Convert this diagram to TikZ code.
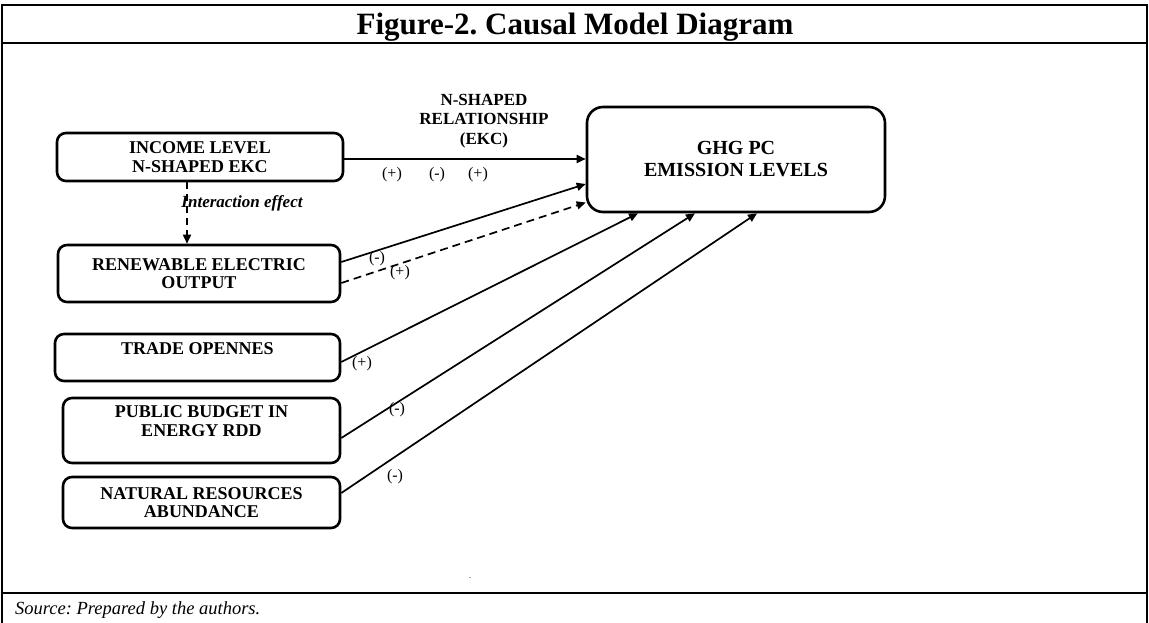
\documentclass[tikz,border=0pt]{standalone}
\usepackage{fontspec}
\setmainfont{Liberation Serif}
\usetikzlibrary{arrows.meta}
\frenchspacing

\begin{document}
\begin{tikzpicture}[
		x=1pt, y=-1pt,
		box/.style={rectangle, draw, rounded corners=9pt, line width=2.6pt, align=center, inner sep=0pt, font=\fontsize{18}{18.5}\selectfont\bfseries},
		sign/.style={inner sep=0pt, font=\fontsize{16}{16}\selectfont},
		link/.style={line width=1.7pt, -{Triangle[length=9pt,width=8pt]}}
	]
  \useasboundingbox (0,0) rectangle (1149,623);
  \draw [line width=2.5pt] (2,630) -- (2,5) -- (1147,5) -- (1147,630);
  \draw [line width=2.5pt] (2,43) -- (1147,43);
  \draw [line width=2.5pt] (2,593) -- (1147,593);
  \node (title) [anchor=base, inner sep=0pt, font=\fontsize{31}{31}\selectfont\bfseries] at (575,35) {Figure-2. Causal Model Diagram};
  \node (income) [box, minimum width=286pt, minimum height=48pt] at (200,157) {INCOME LEVEL\\N-SHAPED EKC};
  \node (renew) [box, minimum width=282pt, minimum height=57pt] at (199,273.5) {RENEWABLE ELECTRIC\\OUTPUT};
  \node (trade) [box, minimum width=285pt, minimum height=47pt] at (197.5,357.5) {TRADE OPENNES\\~};
  \node (budget) [box, minimum width=277pt, minimum height=65pt] at (201.5,430.5) {PUBLIC BUDGET IN\\ENERGY RDD\\~};
  \node (natural) [box, minimum width=277pt, minimum height=51pt] at (201.5,502.5) {NATURAL RESOURCES\\ABUNDANCE};
  \node (ghg) [box, rounded corners=16pt, minimum width=298pt, minimum height=105pt, font=\fontsize{20}{22}\selectfont\bfseries] at (736,159.5) {GHG PC\\EMISSION LEVELS};
  \node (ekc) [align=center, inner sep=0pt, font=\fontsize{17}{19.5}\selectfont\bfseries] at (484,121) {N-SHAPED\\RELATIONSHIP\\(EKC)};
  \node (inter) [inner sep=0pt, font=\fontsize{17}{17}\selectfont\bfseries\itshape] at (242,203) {Interaction effect};
  \node (s_inc_a) [sign] at (392,175) {(+)};
  \node (s_inc_b) [sign] at (437,175) {(-)};
  \node (s_inc_c) [sign] at (478,175) {(+)};
  \node (s_ren_a) [sign] at (377,259) {(-)};
  \node (s_ren_b) [sign] at (400,273) {(+)};
  \node (s_trade) [sign] at (362,364) {(+)};
  \node (s_budget) [sign] at (397,410) {(-)};
  \node (s_natural) [sign] at (395,477) {(-)};
  \node (source) [anchor=base west, inner sep=0pt, font=\fontsize{18.5}{18.5}\selectfont\itshape] at (15,614) {Source: Prepared by the authors.};
  \node (dot) [inner sep=0pt, text=black!70, font=\fontsize{10}{10}\selectfont] at (470,578) {.};
  \draw [link] ([yshift=-2pt]income.east) -- ([yshift=-2pt]income.east -| ghg.west);
  \draw [link, dashed, dash pattern=on 7pt off 5pt] ([xshift=-13pt]income.south) -- ([xshift=-13pt]income.south |- renew.north);
  \draw [link] ([yshift=11.5pt]renew.east) -- ([yshift=-24.5pt]ghg.west);
  \draw [link, dashed, dash pattern=on 8pt off 5pt] ([yshift=-9.5pt]renew.east) -- ([yshift=-43pt]ghg.west);
  \draw [link] ([yshift=-4.5pt]trade.east) -- ([xshift=-98pt]ghg.south);
  \draw [link] ([yshift=-7.5pt]budget.east) -- ([xshift=-41pt]ghg.south);
  \draw [link] ([yshift=9.5pt]natural.east) -- ([xshift=21pt]ghg.south);
\end{tikzpicture}
\end{document}
